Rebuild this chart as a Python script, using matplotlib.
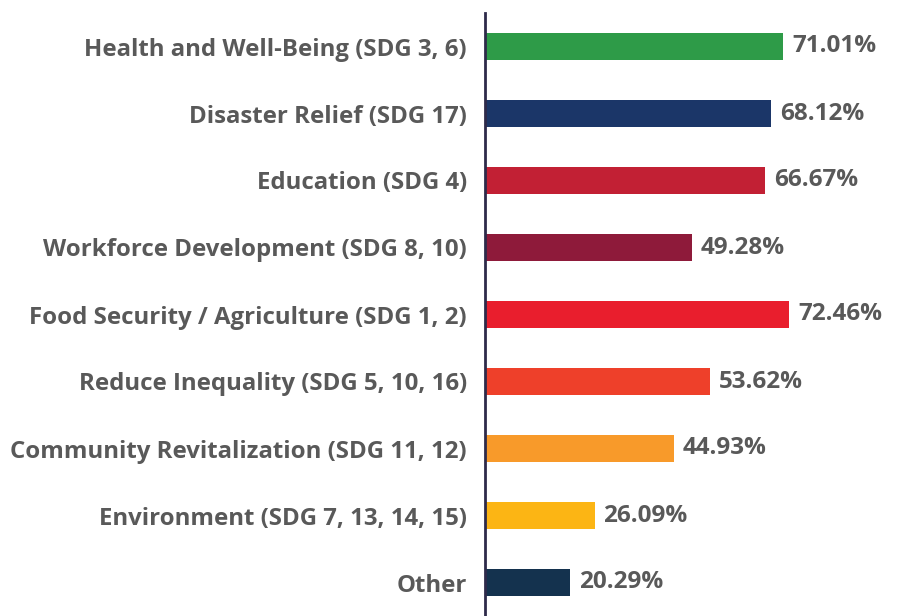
import matplotlib
matplotlib.use('Agg')
import matplotlib.pyplot as plt

# categories and values, top to bottom
categories = ['Health and Well-Being (SDG 3, 6)', 'Disaster Relief (SDG 17)',
              'Education (SDG 4)', 'Workforce Development (SDG 8, 10)',
              'Food Security / Agriculture (SDG 1, 2)', 'Reduce Inequality (SDG 5, 10, 16)',
              'Community Revitalization (SDG 11, 12)', 'Environment (SDG 7, 13, 14, 15)',
              'Other']
values = [71.01, 68.12, 66.67, 49.28, 72.46, 53.62, 44.93, 26.09, 20.29]
colors = ['#2E9B48', '#1B3668', '#C22034', '#8E1A3A', '#E91E2D',
          '#EE402A', '#F89A2A', '#FCB514', '#14324E']

text_color = '#595959'
plt.rcParams['font.family'] = ['Open Sans', 'DejaVu Sans']

fig = plt.figure(figsize=(9.03, 6.16), dpi=100)
ax = fig.add_axes([485 / 903, 0, 418 / 903, 603 / 616])

pos = list(range(len(categories)))
ax.barh(pos, values, height=0.39, color=colors)
ax.set_ylim(len(categories) - 0.5, -0.5)
ax.set_xlim(0, 99.5)

for p, v in zip(pos, values):
    ax.text(v + 2.1, p, f'{v:.2f}%', va='center', ha='left',
            fontsize=17.5, fontweight='bold', color=text_color)

ax.set_yticks(pos)
ax.set_yticklabels(categories, fontsize=17.3, fontweight='bold', color=text_color)
ax.tick_params(axis='y', length=0, pad=13)
ax.set_xticks([])

for s in ['top', 'right', 'bottom']:
    ax.spines[s].set_visible(False)
ax.spines['left'].set_color('#2E2A4A')
ax.spines['left'].set_linewidth(2)

fig.savefig('out.png', dpi=100)
